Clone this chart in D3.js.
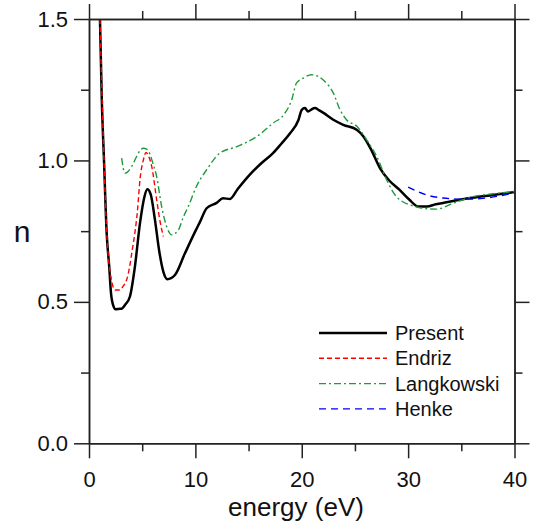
<!DOCTYPE html>
<html>
<head>
<meta charset="utf-8">
<script src="https://cdn.jsdelivr.net/npm/d3@7"></script>
<style>
  body { margin: 0; background: #fff; }
  text { font-family: "Liberation Sans", Arial, sans-serif; }
</style>
</head>
<body>
<div id="chart"></div>
<script>
// data: energy (eV) and n
const presentE = [1.03, 1.2, 1.41, 1.66, 1.9, 2.07, 2.3, 2.5, 2.8, 3.07, 3.4, 3.85, 4.3, 4.8, 5.2, 5.48, 5.8, 6.2, 6.6, 7.0, 7.36, 8.08, 9.0, 10.0, 10.4, 11.06, 12.0, 12.6, 13.25, 14.0, 15.1, 16.2, 17.3, 18.1, 18.9, 19.7, 20.0, 20.3, 20.6, 20.9, 21.24, 21.6, 22.0, 22.97, 23.9, 25.2, 25.8, 26.5, 27.35, 28.2, 29.2, 30.1, 30.95, 31.75, 32.6, 33.6, 35.8, 38, 40];
const presentN = [1.5, 1.22, 1.0, 0.744, 0.625, 0.53, 0.485, 0.474, 0.475, 0.476, 0.49, 0.519, 0.62, 0.78, 0.87, 0.898, 0.88, 0.79, 0.68, 0.605, 0.58, 0.595, 0.67, 0.75, 0.78, 0.831, 0.85, 0.866, 0.864, 0.9, 0.949, 0.99, 1.026, 1.06, 1.096, 1.144, 1.179, 1.185, 1.173, 1.18, 1.185, 1.178, 1.169, 1.144, 1.126, 1.108, 1.085, 1.04, 0.973, 0.93, 0.896, 0.862, 0.837, 0.837, 0.845, 0.852, 0.867, 0.878, 0.888];

const endrizE = [1.03, 1.41, 1.66, 1.85, 2.1, 2.44, 2.9, 3.2, 3.54, 3.8, 4.05, 4.3, 4.55, 4.8, 5.1, 5.36, 5.6, 5.9, 6.36, 6.7, 6.99];
const endrizN = [1.5, 1.0, 0.75, 0.648, 0.58, 0.542, 0.542, 0.555, 0.578, 0.62, 0.68, 0.74, 0.82, 0.935, 1.0, 1.028, 1.015, 0.978, 0.861, 0.78, 0.731];

const langE = [3.07, 3.38, 3.7, 4.0, 4.48, 4.8, 5.1, 5.42, 5.7, 6.0, 6.36, 6.83, 7.36, 7.77, 8.4, 8.87, 9.33, 10.1, 11.06, 12.3, 13.9, 15.8, 17.3, 18.3, 19.05, 19.5, 20.15, 20.9, 21.5, 22.0, 22.97, 23.6, 24.2, 25.2, 26.1, 27.05, 28.0, 28.9, 30.65, 31.5, 32.7, 34.25, 36.1, 38, 40];
const langN = [1.008, 0.955, 0.962, 0.978, 1.014, 1.035, 1.043, 1.04, 1.025, 0.99, 0.943, 0.837, 0.76, 0.737, 0.754, 0.8, 0.837, 0.908, 0.967, 1.026, 1.049, 1.085, 1.132, 1.161, 1.214, 1.273, 1.291, 1.303, 1.298, 1.285, 1.238, 1.179, 1.144, 1.12, 1.073, 1.014, 0.93, 0.872, 0.837, 0.83, 0.828, 0.849, 0.872, 0.882, 0.89];

const henkeE = [30.0, 30.9, 31.75, 33.3, 35.2, 37, 40];
const henkeN = [0.906, 0.89, 0.878, 0.867, 0.863, 0.866, 0.885];

const xMajor = [0, 10, 20, 30, 40];
const xMinor = [5, 15, 25, 35];
const yMajor = [0, 0.5, 1.0, 1.5];
const yMinor = [0.25, 0.75, 1.25];

const series = [
    {name: "Present", e: presentE, n: presentN, color: "#000", width: 2.5, dash: null},
    {name: "Endriz", e: endrizE, n: endrizN, color: "#ff0000", width: 1.4, dash: "5,3"},
    {name: "Langkowski", e: langE, n: langN, color: "#1f9a3a", width: 1.4, dash: "7,3,2,3"},
    {name: "Henke", e: henkeE, n: henkeN, color: "#0000ff", width: 1.4, dash: "7,5"}
];

const W = 534, H = 525;
const mLeft = 89, mRight = 514.5, mTop = 19, mBottom = 443.3;

let svg = d3.select("#chart").append("svg")
    .attr("width", W)
    .attr("height", H);

let x = d3.scaleLinear().domain([0, 40]).range([mLeft, mRight]);
let y = d3.scaleLinear().domain([0, 1.5]).range([mBottom, mTop]);

// curves, clipped to the frame
svg.append("clipPath").attr("id", "clip")
    .append("rect").attr("x", mLeft).attr("y", mTop)
    .attr("width", mRight - mLeft).attr("height", mBottom - mTop);

let line = d3.line()
    .x(d => x(d[0]))
    .y(d => y(d[1]))
    .curve(d3.curveMonotoneX);

let g = svg.append("g").attr("clip-path", "url(#clip)");

// black first, dashed lines over it
series.forEach(s => {
    g.append("path")
        .datum(d3.zip(s.e, s.n))
        .attr("fill", "none")
        .attr("stroke", s.color)
        .attr("stroke-width", s.width)
        .attr("stroke-dasharray", s.dash)
        .attr("stroke-linejoin", "round")
        .attr("d", line);
});

// axes: major ticks with labels, minor ticks without
function styleAxis(sel) {
    sel.selectAll("path, line").attr("stroke", "#222").attr("stroke-width", 1.5);
    sel.selectAll("text").attr("font-size", 22).attr("fill", "#111")
        .style("font-family", "'Liberation Sans', Arial, sans-serif");
}

svg.append("g").attr("transform", `translate(0,${mBottom})`)
    .call(d3.axisBottom(x).tickValues(xMajor).tickSize(15).tickSizeOuter(0).tickPadding(13).tickFormat(d3.format("d")))
    .call(styleAxis);
svg.append("g").attr("transform", `translate(0,${mBottom})`)
    .call(d3.axisBottom(x).tickValues(xMinor).tickSize(8).tickSizeOuter(0).tickFormat(""))
    .call(styleAxis);

svg.append("g").attr("transform", `translate(0,${mTop})`)
    .call(d3.axisTop(x).tickValues(xMajor).tickSize(15).tickSizeOuter(0).tickFormat(""))
    .call(styleAxis);
svg.append("g").attr("transform", `translate(0,${mTop})`)
    .call(d3.axisTop(x).tickValues(xMinor).tickSize(8).tickSizeOuter(0).tickFormat(""))
    .call(styleAxis);

svg.append("g").attr("transform", `translate(${mLeft},0)`)
    .call(d3.axisLeft(y).tickValues(yMajor).tickSize(15).tickSizeOuter(0).tickPadding(6).tickFormat(d3.format(".1f")))
    .call(styleAxis);
svg.append("g").attr("transform", `translate(${mLeft},0)`)
    .call(d3.axisLeft(y).tickValues(yMinor).tickSize(8).tickSizeOuter(0).tickFormat(""))
    .call(styleAxis);

svg.append("g").attr("transform", `translate(${mRight},0)`)
    .call(d3.axisRight(y).tickValues(yMajor).tickSize(15).tickSizeOuter(0).tickFormat(""))
    .call(styleAxis);
svg.append("g").attr("transform", `translate(${mRight},0)`)
    .call(d3.axisRight(y).tickValues(yMinor).tickSize(8).tickSizeOuter(0).tickFormat(""))
    .call(styleAxis);

// axis titles
svg.append("text")
    .attr("x", 296)
    .attr("y", 516)
    .attr("text-anchor", "middle")
    .attr("font-size", 26)
    .attr("fill", "#111")
    .text("energy (eV)");

svg.append("text")
    .attr("x", 22)
    .attr("y", 242)
    .attr("text-anchor", "middle")
    .attr("font-size", 30)
    .attr("fill", "#111")
    .text("n");

// legend
let legend = svg.append("g");
series.forEach((s, i) => {
    let ly = 333 + i * 25.3;
    legend.append("line")
        .attr("x1", 319).attr("x2", 387)
        .attr("y1", ly).attr("y2", ly)
        .attr("stroke", s.color)
        .attr("stroke-width", s.width)
        .attr("stroke-dasharray", s.dash);
    legend.append("text")
        .attr("x", 395)
        .attr("y", ly + 7)
        .attr("font-size", 20)
        .attr("fill", "#111")
        .text(s.name);
});
</script>
</body>
</html>
